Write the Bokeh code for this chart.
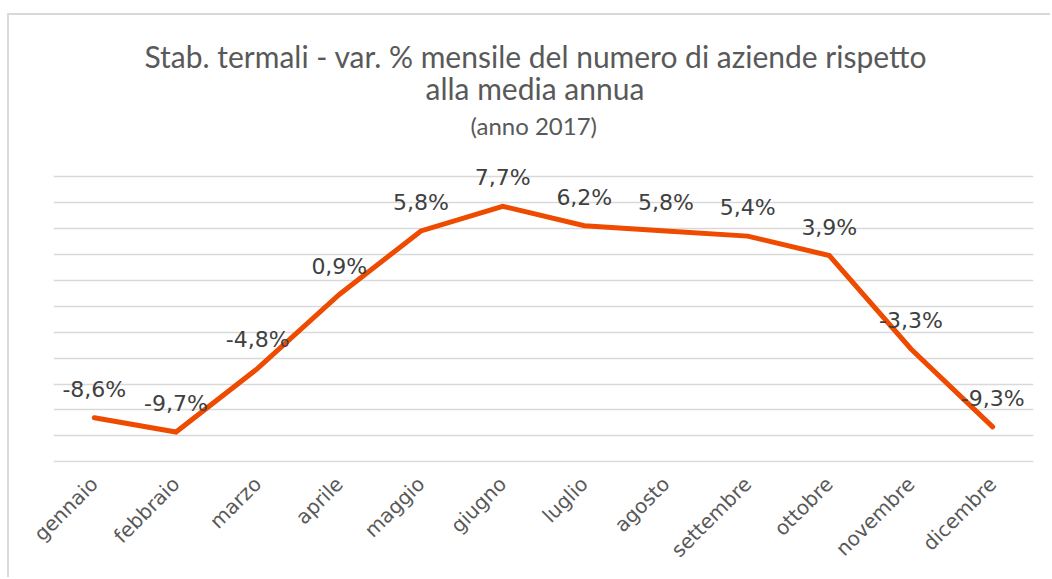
import math
from bokeh.plotting import figure
from bokeh.models import ColumnDataSource, FixedTicker, Title, LabelSet
from bokeh.core.properties import value
from bokeh.embed import file_html
from bokeh.resources import INLINE

months = ["gennaio", "febbraio", "marzo", "aprile", "maggio", "giugno",
          "luglio", "agosto", "settembre", "ottobre", "novembre", "dicembre"]
values = [-8.6, -9.7, -4.8, 0.9, 5.8, 7.7, 6.2, 5.8, 5.4, 3.9, -3.3, -9.3]
labels = ["-8,6%", "-9,7%", "-4,8%", "0,9%", "5,8%", "7,7%",
          "6,2%", "5,8%", "5,4%", "3,9%", "-3,3%", "-9,3%"]
grid_ticks = [-12, -10, -8, -6, -4, -2, 0, 2, 4, 6, 8, 10]

title_line1 = "Stab. termali - var. % mensile del numero di aziende rispetto"
title_line2 = "alla media annua"
subtitle = "(anno 2017)"

source = ColumnDataSource(dict(month=months, value=values, label=labels))

p = figure(x_range=months, y_range=(-12.05, 12), width=1043, height=564,
           output_backend="svg", toolbar_location=None,
           y_axis_location=None,
           min_border_left=44, min_border_right=19,
           min_border_top=135, min_border_bottom=117)
p.styles = {"border-left": "2px solid #d9d9d9", "border-top": "2px solid #d9d9d9",
            "margin-left": "7px", "margin-top": "13px"}
p.outline_line_color = None
p.background_fill_color = "white"
p.border_fill_color = "white"

p.xgrid.grid_line_color = None
p.ygrid.ticker = FixedTicker(ticks=grid_ticks)
p.ygrid.grid_line_color = "#d9d9d9"
p.ygrid.grid_line_width = 1.6

p.line(x="month", y="value", source=source, line_color="#EE4B00",
       line_width=5, line_join="miter", line_cap="round")

ls = LabelSet(x="month", y="value", text="label", source=source,
              text_align="center", text_baseline="alphabetic", y_offset=21,
              text_font=value("DejaVu Sans"), text_font_size="22px",
              text_color="#404040")
p.add_layout(ls)

xa = p.xaxis[0]
xa.axis_line_color = None
xa.major_tick_line_color = None
xa.minor_tick_line_color = None
xa.major_tick_out = 0
xa.major_label_orientation = math.pi / 4
xa.major_label_standoff = 18
xa.major_label_text_font = "DejaVu Sans"
xa.major_label_text_font_size = "20px"
xa.major_label_text_color = "#595959"

p.add_layout(Title(text=subtitle, align="left", offset=417, text_font="Lato",
                   text_font_size="24px", text_font_style="normal",
                   text_color="#595959", standoff=22), "above")
p.add_layout(Title(text=title_line2, align="left", offset=372, text_font="Lato",
                   text_font_size="30px", text_font_style="normal",
                   text_color="#595959", standoff=-16), "above")
p.add_layout(Title(text=title_line1, align="left", offset=91, text_font="Lato",
                   text_font_size="30px", text_font_style="normal",
                   text_color="#595959", standoff=3), "above")

open("out.html", "w").write(file_html(p, INLINE))
